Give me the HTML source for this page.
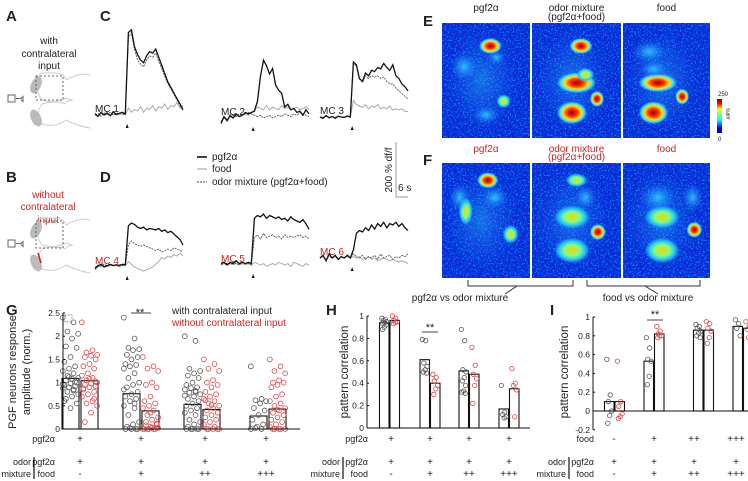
<!DOCTYPE html>
<html><head><meta charset="utf-8"><style>
body{margin:0;background:#fff;width:748px;height:481px;overflow:hidden}
svg{display:block;font-family:"Liberation Sans",sans-serif}
</style></head><body>
<svg id="fig" width="748" height="481" viewBox="0 0 748 481" xmlns="http://www.w3.org/2000/svg">
<defs>
<linearGradient id="jet" x1="0" y1="1" x2="0" y2="0">
<stop offset="0" stop-color="#00008f"/><stop offset="0.15" stop-color="#0000ff"/><stop offset="0.38" stop-color="#00ffff"/><stop offset="0.55" stop-color="#80ff80"/><stop offset="0.7" stop-color="#ffff00"/><stop offset="0.87" stop-color="#ff0000"/><stop offset="1" stop-color="#800000"/></linearGradient>
<radialGradient id="hot"><stop offset="0" stop-color="#a00000"/><stop offset="0.35" stop-color="#ff3000"/><stop offset="0.6" stop-color="#ffe000"/><stop offset="0.8" stop-color="#40e0ff"/><stop offset="1" stop-color="#40e0ff" stop-opacity="0"/></radialGradient>
<radialGradient id="warm"><stop offset="0" stop-color="#ffd000"/><stop offset="0.45" stop-color="#80ff80"/><stop offset="0.75" stop-color="#20c0ff"/><stop offset="1" stop-color="#20c0ff" stop-opacity="0"/></radialGradient>
<radialGradient id="cool"><stop offset="0" stop-color="#30d0ff" stop-opacity="0.9"/><stop offset="1" stop-color="#2080ff" stop-opacity="0"/></radialGradient>
<filter id="speck" x="0" y="0" width="100%" height="100%">
<feTurbulence type="fractalNoise" baseFrequency="0.6" numOctaves="2" seed="3" result="n"/>
<feColorMatrix in="n" type="matrix" values="0 0 0 0 0  0 0 0 0 0.6  0 0 0 0 1  0 0 0 6 -3.2"/>
</filter>
</defs>
<g id="g-static" font-size="11" fill="#222">
<text x="6" y="21" font-size="15" font-weight="bold">A</text>
<text x="100" y="21" font-size="15" font-weight="bold">C</text>
<text x="6" y="182" font-size="15" font-weight="bold">B</text>
<text x="100" y="182" font-size="15" font-weight="bold">D</text>
<text x="423" y="26" font-size="15" font-weight="bold">E</text>
<text x="423" y="165" font-size="15" font-weight="bold">F</text>
<text x="6" y="315" font-size="15" font-weight="bold">G</text>
<text x="326" y="315" font-size="15" font-weight="bold">H</text>
<text x="550" y="315" font-size="15" font-weight="bold">I</text>
<g text-anchor="middle" font-size="10"><text x="49" y="44">with</text><text x="49" y="57">contralateral</text><text x="49" y="69">input</text></g>
<g text-anchor="middle" font-size="10" fill="#d42020"><text x="48" y="198">without</text><text x="48" y="210">contralateral</text><text x="48" y="223">input</text></g>
<g fill="none" stroke="#ccc" stroke-width="1">
<path d="M40 78 Q36 72 50 73 Q64 72 66 80 Q80 72 90 75"/><path d="M40 78 Q34 90 42 100 Q55 104 66 98 L72 100 L66 102"/><path d="M42 104 Q34 115 42 124 Q56 128 66 120 Q78 126 90 128"/><path d="M42 104 Q55 100 66 104"/>
<ellipse cx="36" cy="85" rx="5" ry="9" fill="#bbb" stroke="none" transform="rotate(25 36 85)"/><ellipse cx="36" cy="118" rx="5" ry="9" fill="#bbb" stroke="none" transform="rotate(-25 36 118)"/>
<rect x="36" y="76" width="27" height="24" stroke="#666" stroke-dasharray="2,2"/>
<rect x="8" y="95" width="7" height="7" stroke="#666"/><path d="M16 98.5 h5 l2 -2 v5 l-2 -2" stroke="#666"/></g>
<g fill="none" stroke="#ccc" stroke-width="1">
<path d="M40 223 Q36 217 50 218 Q64 217 66 225 Q80 217 90 220"/><path d="M40 223 Q34 235 42 245 Q55 249 66 243 L72 245 L66 247"/><path d="M42 249 Q34 260 42 269 Q56 273 66 265 Q78 271 90 273"/><path d="M42 249 Q55 245 66 249"/>
<ellipse cx="36" cy="230" rx="5" ry="9" fill="#bbb" stroke="none" transform="rotate(25 36 230)"/><ellipse cx="36" cy="263" rx="5" ry="9" fill="#bbb" stroke="none" transform="rotate(-25 36 263)"/>
<rect x="36" y="221" width="27" height="27" stroke="#666" stroke-dasharray="2,2"/>
<rect x="8" y="240" width="7" height="7" stroke="#666"/><path d="M16 243.5 h5 l2 -2 v5 l-2 -2" stroke="#666"/>
<line x1="38" y1="253" x2="41" y2="263" stroke="#d42020" stroke-width="1.6"/></g>
<g font-size="10">
<line x1="197" y1="157" x2="207" y2="157" stroke="#111" stroke-width="1.6"/><text x="212" y="160">pgf2α</text>
<line x1="197" y1="169" x2="207" y2="169" stroke="#aaa" stroke-width="1.2"/><text x="212" y="172">food</text>
<line x1="197" y1="182" x2="207" y2="182" stroke="#444" stroke-width="1" stroke-dasharray="2,1"/><text x="212" y="185">odor mixture (pgf2α+food)</text></g>
<g font-size="10"><path d="M396 142 V197 H408" fill="none" stroke="#999"/>
<text transform="translate(392 170) rotate(-90)" text-anchor="middle">200 % df/f</text><text x="398" y="191">6 s</text></g>
</g>
<g id="traces"></g>
<g id="heat"></g>
<g id="gchart"></g><g id="hchart"></g><g id="ichart"></g>
</svg>
<script>
// ---- trace data (% df/f, 30 samples over ~44 s, stimulus at sample 11) ----
const mc1Pgf=[5,-5,10,0,8,-3,12,2,6,10,4,300,310,250,220,200,190,215,230,225,240,210,180,150,120,100,80,60,40,20];
const mc1Mix=[0,5,-5,8,2,10,0,5,8,3,6,280,300,240,200,185,175,200,215,210,225,195,170,140,115,95,75,55,35,15];
const mc1Food=[0,-5,5,0,3,-2,4,1,2,3,0,25,10,20,15,30,10,25,20,35,15,30,25,40,20,35,30,45,25,35];
const mc2Pgf=[-20,5,-10,10,0,15,5,10,20,15,20,25,60,150,210,190,160,180,120,100,90,40,50,30,35,20,25,10,30,15];
const mc2Mix=[-15,0,-5,5,10,5,15,10,15,20,15,10,5,10,0,5,10,0,5,10,5,15,10,5,15,10,20,15,10,5];
const mc2Food=[-10,0,-5,5,0,10,5,10,15,10,20,25,40,35,30,45,30,40,35,30,45,35,40,30,35,40,30,35,40,30];
const mc3Pgf=[0,-5,5,-3,2,-5,3,0,-2,4,0,200,190,140,130,160,150,170,165,180,175,195,180,170,190,150,140,120,110,95];
const mc3Mix=[0,-5,5,-3,2,-5,3,0,-2,4,0,195,185,140,125,150,140,150,145,150,140,145,130,120,120,105,95,85,75,65];
const mc3Food=[0,0,2,-2,1,0,2,-1,0,1,0,60,45,40,35,45,30,40,35,45,30,35,30,40,25,30,25,30,20,20];
const mc4Pgf=[-5,5,10,0,5,10,5,8,5,10,8,150,160,155,145,140,145,135,140,138,135,140,130,135,125,130,120,110,100,80];
const mc4Mix=[-10,0,5,10,5,5,8,5,10,5,8,80,95,85,80,75,80,75,70,65,60,65,55,60,65,60,70,65,60,55];
const mc4Food=[0,5,0,5,0,5,5,5,0,5,5,20,10,0,-5,-10,-15,-10,-5,0,10,20,35,30,40,35,45,40,50,40];
const mc5Pgf=[5,10,0,10,5,15,5,10,5,10,5,170,180,175,185,170,180,175,170,175,165,170,160,175,165,160,155,165,150,130];
const mc5Mix=[0,10,5,5,10,5,0,10,5,5,0,100,110,95,115,100,105,110,100,105,95,110,100,105,100,105,110,100,105,95];
const mc5Food=[0,5,0,5,0,5,0,5,0,5,0,10,5,0,5,-5,0,5,0,10,5,0,5,-5,10,5,0,-5,5,0];
const mc6Pgf=[0,10,-10,15,0,10,-5,5,0,10,0,30,90,100,95,110,100,120,105,125,115,130,110,125,120,130,115,125,110,100];
const mc6Mix=[0,10,-10,15,0,10,-5,5,0,10,0,15,5,0,10,-5,5,0,10,-5,15,0,5,10,-5,5,0,10,5,15];
const mc6Food=[0,5,-5,5,0,5,-5,5,0,5,0,5,0,5,-5,0,5,-5,0,-10,-5,0,-5,-10,-5,-10,-15,-10,-15,-20];
const traceNames=["MC 1","MC 2","MC 3","MC 4","MC 5","MC 6"];

// ---- G data (normalized amplitude) ----
const gBarsWith=[1.09,0.76,0.53,0.28];
const gBarsWithout=[1.04,0.39,0.42,0.43];
const gPtsWith=[
[2.4,2.3,2.1,2.05,1.95,1.78,1.75,1.55,1.45,1.35,1.3,1.25,1.2,1.15,1.1,1.08,1.05,1.0,0.98,0.95,0.92,0.9,0.88,0.85,0.8,0.75,0.7,0.65,0.55,0.45,0.6,1.02,1.12,0.97,0.83],
[2.4,1.95,1.75,1.72,1.7,1.6,1.55,1.5,1.4,1.38,1.35,1.3,1.2,1.1,1.0,0.95,0.9,0.8,0.75,0.7,0.65,0.6,0.5,0.45,0.3,0.15,0.1,0.05,0,0,0,0,0.02,0.85,0.55],
[2.0,1.9,1.3,1.25,1.2,1.15,1.1,1.0,0.95,0.9,0.88,0.85,0.8,0.78,0.75,0.7,0.65,0.6,0.55,0.5,0.45,0.4,0.35,0.3,0.2,0.15,0.1,0.05,0,0,0,0,0,0.72,0.82],
[1.35,0.65,0.62,0.6,0.55,0.45,0.4,0.3,0.2,0.1,0.05,0,0,0.02]];
const gPtsWithout=[
[2.3,1.7,1.65,1.6,1.58,1.55,1.5,1.4,1.35,1.3,1.2,1.15,1.1,1.05,1.0,0.98,0.95,0.92,0.9,0.85,0.8,0.75,0.7,0.6,0.55,0.5,0.35,0.15,1.03,1.08,0.88,0.65],
[1.55,1.35,1.3,1.25,1.0,0.95,0.9,0.7,0.6,0.55,0.5,0.45,0.4,0.3,0.25,0.2,0.15,0.1,0.05,0,0,0,0,0,0,0.02,0.03,0.08,0.12,0.35],
[1.5,1.4,1.3,1.25,1.05,1.0,0.95,0.9,0.8,0.75,0.7,0.65,0.6,0.55,0.5,0.45,0.4,0.35,0.3,0.25,0.2,0.15,0.1,0.05,0,0,0,0,0,0.52,0.62],
[1.5,1.35,1.25,1.2,1.05,1.0,1.0,0.95,0.9,0.75,0.7,0.6,0.55,0.5,0.45,0.4,0.35,0.3,0.25,0.2,0.15,0.1,0.05,0,0,0,0,0,0.3,0.42]];
const gTicks=[0,0.5,1,1.5,2,2.5];
const gTickLabels=["0","0.5","1","1.5","2","2.5"];
// ---- H data ----
const hBarsWith=[0.94,0.61,0.51,0.17];
const hBarsWithout=[0.96,0.40,0.48,0.35];
const hPtsWith=[[0.98,0.97,0.96,0.95,0.94,0.93,0.92,0.9,0.88],[0.79,0.78,0.58,0.55,0.52,0.5,0.49],[0.88,0.78,0.52,0.5,0.45,0.42,0.38,0.33,0.32,0.31],[0.38,0.14,0.12,0.1,0.09]];
const hPtsWithout=[[1.0,0.98,0.96,0.95,0.94,0.93],[0.48,0.45,0.42,0.38,0.35,0.3],[0.72,0.56,0.48,0.44,0.38,0.22],[0.53,0.4,0.38,0.34,0.1]];
const hTicks=[0,0.2,0.4,0.6,0.8,1];
const hTickLabels=["0","0.2","0.4","0.6","0.8","1"];
// ---- I data ----
const iBarsWith=[0.1,0.53,0.86,0.9];
const iBarsWithout=[0.1,0.82,0.86,0.88];
const iPtsWith=[[0.55,0.17,0.1,0,-0.05,-0.13],[0.78,0.67,0.55,0.53,0.37,0.28],[0.92,0.9,0.88,0.85,0.83,0.8,0.78],[0.97,0.93,0.88,0.8]];
const iPtsWithout=[[0.53,0.1,0.05,-0.03,-0.06,-0.08],[0.9,0.85,0.82,0.8,0.8,0.78],[0.95,0.93,0.88,0.85,0.78,0.72],[0.95,0.9,0.87,0.83,0.78]];
const iTicks=[-0.2,0,0.2,0.4,0.6,0.8,1];
const iTickLabels=["-0.2","0","0.2","0.4","0.6","0.8","1"];

const NS="http://www.w3.org/2000/svg";
function mk(tag,attrs,parent){const e=document.createElementNS(NS,tag);for(const k in attrs)e.setAttribute(k,attrs[k]);parent.appendChild(e);return e;}
function txt(s,attrs,parent){const e=mk("text",attrs,parent);e.textContent=s;return e;}

// ---- traces ----
const tg=document.getElementById("traces");
const panels=[
 {x0:95,base:115,d:[mc1Pgf,mc1Mix,mc1Food],red:false},
 {x0:221,base:118,d:[mc2Pgf,mc2Mix,mc2Food],red:false},
 {x0:320,base:117,d:[mc3Pgf,mc3Mix,mc3Food],red:false},
 {x0:95,base:267,d:[mc4Pgf,mc4Mix,mc4Food],red:true},
 {x0:221,base:265,d:[mc5Pgf,mc5Mix,mc5Food],red:true},
 {x0:320,base:258,d:[mc6Pgf,mc6Mix,mc6Food],red:true}];
const tW=88,yPer=55/200;
panels.forEach((p,pi)=>{
 const g=mk("g",{},tg);
 
 
 const xs=i=>p.x0+i*tW/29, ys=v=>p.base-v*yPer;
 const styles=[{stroke:"#111","stroke-width":1.3},{stroke:"#555","stroke-width":0.9,"stroke-dasharray":"2,1"},{stroke:"#aaa","stroke-width":1}];
 [2,1,0].forEach(k=>{
  const arr=p.d[k];
  const pl=mk("polyline",Object.assign({fill:"none",points:arr.map((v,i)=>xs(i).toFixed(1)+","+ys(v).toFixed(1)).join(" ")},styles[k]),g);
  
  
 });
 const ax=xs(10.6);
 const ar=mk("path",{d:`M${ax} ${p.base+9} l-1.5 4 h3 z`,fill:"#111"},g);
 
 
 const lb=txt(traceNames[pi],{x:p.x0,y:p.base-3,"font-size":10,fill:p.red?"#d42020":"#222"},g);
 
 
});

// ---- heat maps ----
const hg=document.getElementById("heat");
const imgX=[442,532,623],imgW=[88,89,87],imgY=[23,163],imgH=115;
const titles=["pgf2α","odor mixture","food"];
const blobSets=[
 [[0.55,0.2,0.13,0.07,"hot"],[0.25,0.38,0.15,0.12,"cool"],[0.7,0.68,0.08,0.06,"warm"],[0.62,0.3,0.1,0.06,"cool"],[0.5,0.8,0.15,0.08,"cool"]],
 [[0.55,0.2,0.13,0.07,"hot"],[0.5,0.52,0.22,0.09,"hot"],[0.45,0.78,0.17,0.1,"hot"],[0.73,0.66,0.08,0.07,"hot"],[0.6,0.45,0.1,0.06,"warm"]],
 [[0.4,0.52,0.22,0.08,"hot"],[0.35,0.78,0.17,0.1,"hot"],[0.68,0.64,0.08,0.07,"hot"],[0.35,0.4,0.15,0.08,"cool"],[0.3,0.25,0.2,0.1,"cool"]],
 [[0.52,0.15,0.12,0.07,"hot"],[0.27,0.42,0.08,0.12,"warm"],[0.78,0.62,0.09,0.08,"warm"],[0.2,0.3,0.12,0.12,"cool"],[0.6,0.3,0.15,0.1,"cool"]],
 [[0.5,0.15,0.12,0.06,"warm"],[0.45,0.47,0.2,0.1,"warm"],[0.45,0.76,0.2,0.11,"warm"],[0.74,0.6,0.09,0.07,"hot"],[0.6,0.3,0.12,0.1,"cool"]],
 [[0.45,0.47,0.2,0.1,"warm"],[0.45,0.76,0.2,0.11,"warm"],[0.82,0.58,0.09,0.07,"hot"],[0.4,0.3,0.2,0.12,"cool"],[0.8,0.3,0.12,0.12,"cool"]]];
for(let r=0;r<2;r++)for(let c=0;c<3;c++){
 const g=mk("g",{},hg);
 
 
 const x=imgX[c],y=imgY[r],w=imgW[c];
 mk("rect",{x,y,width:w,height:imgH,fill:"#0a2ad8"},g);
 mk("rect",{x,y,width:w,height:imgH,filter:"url(#speck)",opacity:0.55},g);
 mk("ellipse",{cx:x+w*0.45,cy:y+imgH*0.5,rx:w*0.42,ry:imgH*0.45,fill:"url(#cool)",opacity:0.45},g);
 blobSets[r*3+c].forEach(b=>{mk("ellipse",{cx:x+w*b[0],cy:y+imgH*b[1],rx:w*b[2],ry:imgH*b[3],fill:`url(#${b[4]})`},g);});
 const t=titles[c];
 const tt=txt(t,{x:x+w/2,y:r?152:11,"text-anchor":"middle","font-size":10,fill:r?"#d42020":"#222"},g);
 
 
 if(c==1){const t2=txt("(pgf2α+food)",{x:x+w/2,y:r?160:20,"text-anchor":"middle","font-size":10,fill:r?"#d42020":"#222"},g);
  
  }
}
{const cb=mk("g",{},hg);
 
 
 mk("rect",{x:717,y:99,width:5,height:34,fill:"url(#jet)"},cb);
 txt("250",{x:718,y:96,"font-size":6,fill:"#222"},cb);txt("0",{x:718,y:141,"font-size":6,fill:"#222"},cb);
 txt("%df/f",{transform:"translate(726 108) rotate(90)","font-size":5,fill:"#222"},cb);}
{const br=mk("g",{fill:"none",stroke:"#333","stroke-width":1},hg);
 
 
 mk("path",{d:"M468 280 V286 H573 V280 M517 286 L505 294"},br);
 mk("path",{d:"M587 280 V286 H700 V280 M645 286 L658 294"},br);
 const a=txt("pgf2α vs odor mixture",{x:460,y:301,"text-anchor":"middle","font-size":10,fill:"#222",stroke:"none"},br);
 
 
 const b=txt("food vs odor mixture",{x:648,y:301,"text-anchor":"middle","font-size":10,fill:"#222",stroke:"none"},br);
 
 }

// ---- bar/scatter chart builder ----
function barChart(opt){
 const g=document.getElementById(opt.id);
 const y=v=>opt.y0-(v-0)*(opt.y0-opt.y1)/(opt.v1);
 opt.centers.forEach((c,i)=>{
  [[opt.barsA,-1],[opt.barsB,1]].forEach(([arr,s],k)=>{
   const x=s<0?c-opt.bw-opt.gap/2:c+opt.gap/2;
   const v=arr[i],top=Math.min(y(v),y(0)),h=Math.abs(y(v)-y(0));
   const r=mk("rect",{x,y:top,width:opt.bw,height:Math.max(h,0.5),fill:"#fff",stroke:"#111","stroke-width":1.1},g);
   
   
   const pts=(k?opt.ptsB:opt.ptsA)[i];
   pts.forEach((pv,j)=>{
    const jit=((j*7)%11)/10-0.5;
    const cx=x+opt.bw/2+jit*opt.bw*opt.jit;
    const ci=mk("circle",{cx,cy:y(pv),r:opt.pr,fill:"none",stroke:k?"#d44":"#555","stroke-width":0.8},g);
    
    
   });
  });
 });
 const ax=mk("path",{d:`M${opt.ax} ${y(opt.ticks[opt.ticks.length-1])} V${y(opt.ticks[0])} M${opt.ax} ${y(0)} H${opt.axEnd}`,stroke:"#111",fill:"none","stroke-width":1},g);
 
 
 opt.ticks.forEach((t,i)=>{
  mk("line",{x1:opt.ax,x2:opt.ax+2,y1:y(t),y2:y(t),stroke:"#111"},g);
  const tl=txt(opt.tickLabels[i],{x:opt.ax-3,y:y(t)+3,"text-anchor":"end","font-size":8.5,fill:"#222"},g);
  
  
 });
 return y;
}
function rows(g,x0,centers,rowdefs){
 rowdefs.forEach(rd=>{
  const l=txt(rd.label,{x:x0,y:rd.y,"text-anchor":"end","font-size":9,fill:"#222"},g);
  
  
  centers.forEach((c,i)=>{
   const t=txt(rd.vals[i],{x:c,y:rd.y,"text-anchor":"middle","font-size":10,fill:"#222"},g);
   
   
  });
 });
}
const foodMarks=["-","+","++","+++"],plus=["+","+","+","+"];
function odorBlock(g,xr,ys,off){
 txt("odor",{x:xr-off,y:ys[0],"text-anchor":"end","font-size":9,fill:"#222"},g);
 txt("mixture",{x:xr-off,y:ys[1],"text-anchor":"end","font-size":9,fill:"#222"},g);
 mk("line",{x1:xr-off+3,x2:xr-off+3,y1:ys[0]-8,y2:ys[1]+2,stroke:"#111","stroke-width":1.2},g);
}
// G
{const gc=[80,141,202,268];
 barChart({id:"gchart",centers:gc,barsA:gBarsWith,barsB:gBarsWithout,ptsA:gPtsWith,ptsB:gPtsWithout,ticks:gTicks,tickLabels:gTickLabels,y0:429,y1:313,v1:2.5,ax:63,axEnd:300,bw:17,gap:2,pr:2.4,jit:0.9});
 const g=document.getElementById("gchart");
 const yl=txt("PGF neurons response",{transform:"translate(16 372) rotate(-90)","text-anchor":"middle","font-size":11,fill:"#222"},g);
 
 
 txt("amplitude (norm.)",{transform:"translate(30 372) rotate(-90)","text-anchor":"middle","font-size":11,fill:"#222"},g);
 mk("rect",{x:65,y:315,width:7,height:7,fill:"none",stroke:"#888","stroke-dasharray":"1.5,1.5"},g);
 txt("**",{x:140,y:316,"text-anchor":"middle","font-size":11,fill:"#222"},g);
 mk("line",{x1:131,x2:151,y1:313,y2:313,stroke:"#444"},g);
 const lg=txt("with contralateral input",{x:172,y:314,"font-size":10,fill:"#222"},g);
 
 
 const lr=txt("without contralateral input",{x:172,y:326,"font-size":10,fill:"#d42020"},g);
 
 
 rows(g,55,[80,141,205,266],[{label:"pgf2α",y:442,vals:plus},{label:"pgf2α",y:465,vals:plus},{label:"food",y:477,vals:foodMarks}]);
 odorBlock(g,55,[465,477],24);}
// H
{const hc=[389.5,430,469,509];
 barChart({id:"hchart",centers:hc,barsA:hBarsWith,barsB:hBarsWithout,ptsA:hPtsWith,ptsB:hPtsWithout,ticks:hTicks,tickLabels:hTickLabels,y0:428,y1:316,v1:1,ax:367,axEnd:530,bw:9.5,gap:1,pr:2.2,jit:0.5});
 const g=document.getElementById("hchart");
 const yl=txt("pattern correlation",{transform:"translate(348 372) rotate(-90)","text-anchor":"middle","font-size":11.5,fill:"#222"},g);
 
 
 txt("**",{x:430,y:331,"text-anchor":"middle","font-size":11,fill:"#222"},g);
 mk("line",{x1:422,x2:438,y1:332,y2:332,stroke:"#444"},g);
 rows(g,368,[391,430,469,509],[{label:"pgf2α",y:442,vals:plus},{label:"pgf2α",y:465,vals:plus},{label:"food",y:477,vals:foodMarks}]);
 odorBlock(g,368,[465,477],28);}
// I
{const ic=[614.5,654,703.5,743];
 barChart({id:"ichart",centers:ic,barsA:iBarsWith,barsB:iBarsWithout,ptsA:iPtsWith,ptsB:iPtsWithout,ticks:iTicks,tickLabels:iTickLabels,y0:411,y1:317,v1:1,ax:593,axEnd:748,bw:9.5,gap:1,pr:2.2,jit:0.5});
 const g=document.getElementById("ichart");
 const yl=txt("pattern correlation",{transform:"translate(568 372) rotate(-90)","text-anchor":"middle","font-size":11.5,fill:"#222"},g);
 
 
 txt("**",{x:655,y:318,"text-anchor":"middle","font-size":11,fill:"#222"},g);
 mk("line",{x1:647,x2:663,y1:320,y2:320,stroke:"#444"},g);
 rows(g,594,[614,654,694,736],[{label:"food",y:442,vals:foodMarks},{label:"pgf2α",y:465,vals:plus},{label:"food",y:477,vals:foodMarks}]);
 odorBlock(g,594,[465,477],28);}
</script>
</body></html>
